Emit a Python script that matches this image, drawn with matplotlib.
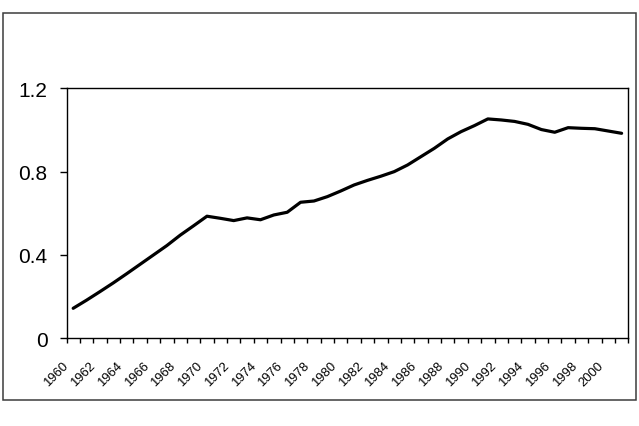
import matplotlib
matplotlib.use("Agg")
import matplotlib.pyplot as plt
from matplotlib.patches import Rectangle
import numpy as np

plt.rcParams['font.family'] = ['Liberation Sans', 'DejaVu Sans']

years = list(range(1960, 2002))
values = [0.144, 0.183, 0.224, 0.266, 0.310, 0.355, 0.400, 0.445, 0.495, 0.540,
          0.586, 0.576, 0.565, 0.578, 0.569, 0.592, 0.605, 0.653, 0.659, 0.680,
          0.707, 0.736, 0.758, 0.778, 0.800, 0.832, 0.872, 0.912, 0.957, 0.992,
          1.021, 1.053, 1.048, 1.041, 1.027, 1.002, 0.989, 1.011, 1.008, 1.006,
          0.995, 0.984]
y_ticks = [0, 0.4, 0.8, 1.2]
y_ticklabels = ["0", "0.4", "0.8", "1.2"]
x_labels = [str(y) for y in years[::2]]

W, H = 639, 427
fig = plt.figure(figsize=(W / 100, H / 100), dpi=100)
ax = fig.add_axes([66.5 / W, 1 - 339.3 / H, (628.3 - 66.5) / W, (339.3 - 89.3) / H])

xpos = np.arange(len(years))
ax.plot(xpos, values, color='black', lw=2.3, solid_joinstyle='round', solid_capstyle='round')

ax.set_xlim(-0.5, len(years) - 0.5)
ax.set_ylim(0, 1.2)

ax.set_yticks(y_ticks)
ax.set_yticklabels(y_ticklabels, fontsize=15)
ax.tick_params(axis='y', direction='out', length=5, width=1, pad=8.7)

# label anchors sit slightly left of the category centres, as in the reference
ax.set_xticks(xpos[::2] - 0.32)
ax.set_xticklabels(x_labels, fontsize=9.4, rotation=45, ha='right', va='baseline',
                   rotation_mode='anchor')
ax.tick_params(axis='x', which='major', length=0, pad=19.6)
ax.set_xticks(np.arange(-0.5, len(years)), minor=True)
ax.tick_params(axis='x', which='minor', direction='out', length=3.6, width=1)

for s in ax.spines.values():
    s.set_linewidth(1)
    s.set_color('black')

fig.patches.append(Rectangle((3 / W, 1 - 401 / H), 633 / W, 387 / H,
                             transform=fig.transFigure, fill=False,
                             edgecolor='#3c3c3c', lw=1.1))

fig.savefig('out.png', dpi=100)
